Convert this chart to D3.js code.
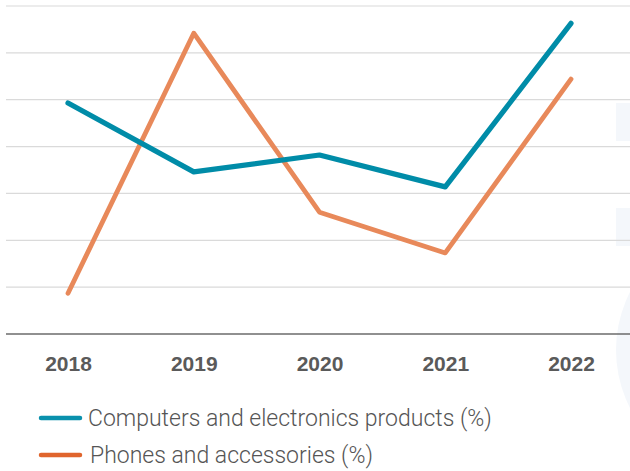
<!DOCTYPE html>
<html>
<head>
<meta charset="utf-8">
<script src="https://cdn.jsdelivr.net/npm/d3@7"></script>
<style>
  html, body { margin: 0; padding: 0; background: #fff; }
  svg { display: block; }
</style>
</head>
<body>
<svg id="chart"></svg>
<script>
const years = ["2018", "2019", "2020", "2021", "2022"];
const computers = [4.93, 3.46, 3.82, 3.14, 6.63];
const phones = [0.87, 6.42, 2.60, 1.73, 5.44];
const gridTicks = [1, 2, 3, 4, 5, 6, 7];
const seriesNames = ["Computers and electronics products (%)", "Phones and accessories (%)"];

const width = 630, height = 471;
const svg = d3.select("#chart").attr("width", width).attr("height", height);

// faint background decorations on the right edge
const deco = svg.append("g").attr("fill", "#f4f7fb");
deco.append("rect").attr("x", 616).attr("y", 103).attr("width", 20).attr("height", 38);
deco.append("rect").attr("x", 616).attr("y", 208).attr("width", 20).attr("height", 38);
deco.append("circle").attr("cx", 743).attr("cy", 350).attr("r", 127);

const x = d3.scalePoint().domain(years).range([68, 571]);
const y = d3.scaleLinear().domain([0, 7]).range([334, 6]);

// gridlines
svg.append("g")
  .selectAll("line")
  .data(gridTicks)
  .join("line")
  .attr("x1", 6).attr("x2", width)
  .attr("y1", d => y(d)).attr("y2", d => y(d))
  .attr("stroke", "#dadada")
  .attr("stroke-width", 1.2);

// baseline + year labels
const xaxis = d3.axisBottom(x).tickSize(0).tickPadding(22);
const xg = svg.append("g")
  .attr("transform", `translate(0, ${y(0)})`)
  .call(xaxis);
xg.select(".domain").remove();
xg.selectAll("text")
  .attr("font-family", "'Liberation Sans', Arial, sans-serif")
  .attr("font-size", 21)
  .attr("font-weight", "bold")
  .attr("fill", "#5a5a5a");
svg.append("line")
  .attr("x1", 6).attr("x2", width)
  .attr("y1", y(0)).attr("y2", y(0))
  .attr("stroke", "#6b6b6b")
  .attr("stroke-width", 1.6);

const line = d3.line()
  .x((d, i) => x(years[i]))
  .y(d => y(d));

svg.append("path")
  .datum(phones)
  .attr("d", line)
  .attr("fill", "none")
  .attr("stroke", "#e8895a")
  .attr("stroke-width", 4.8)
  .attr("stroke-linecap", "round")
  .attr("stroke-linejoin", "round");

svg.append("path")
  .datum(computers)
  .attr("d", line)
  .attr("fill", "none")
  .attr("stroke", "#008ca8")
  .attr("stroke-width", 5.2)
  .attr("stroke-linecap", "round")
  .attr("stroke-linejoin", "round");

// legend
const legendColors = ["#0a91ad", "#e0652d"];
const legend = svg.append("g")
  .selectAll("g")
  .data(seriesNames)
  .join("g")
  .attr("transform", (d, i) => `translate(0, ${418 + i * 37})`);
legend.append("line")
  .attr("x1", 41).attr("x2", 80)
  .attr("stroke", (d, i) => legendColors[i])
  .attr("stroke-width", 4.5)
  .attr("stroke-linecap", "round");
legend.append("text")
  .attr("x", (d, i) => i === 0 ? 88 : 90)
  .attr("y", 8)
  .attr("font-family", "Roboto, 'Liberation Sans', sans-serif")
  .attr("font-weight", 300)
  .attr("font-size", 23)
  .attr("fill", "#555")
  .text(d => d);
</script>
</body>
</html>
